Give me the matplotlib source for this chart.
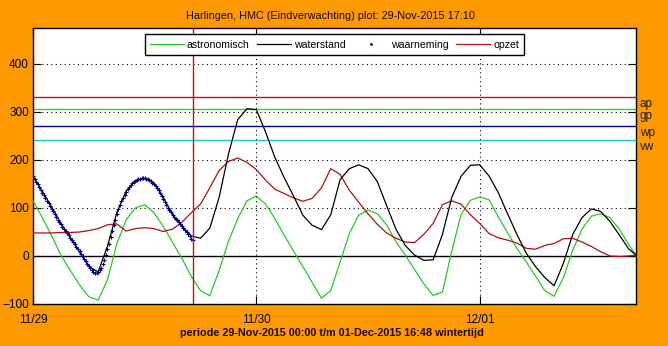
import datetime as dt
import matplotlib
matplotlib.use("Agg")
import matplotlib.pyplot as plt
import matplotlib.dates as mdates
from matplotlib.lines import Line2D

plt.rcParams['font.family'] = ['Liberation Sans Narrow', 'Liberation Sans', 'DejaVu Sans']

# ---- data -------------------------------------------------------------
start = dt.datetime(2015, 11, 29, 0, 0)
end = dt.datetime(2015, 12, 1, 16, 48)
now = dt.datetime(2015, 11, 29, 17, 10)

# hourly forecast series (cm NAP), last value at the end of the period
hours = list(range(65)) + [64.8]

astronomisch = [115, 80, 42, 2, -30, -60, -85, -92, -50, 25,
                75, 100, 107, 90, 62, 28, -5, -42, -72, -83,
                -30, 30, 78, 115, 125, 108, 78, 43, 10, -22,
                -55, -88, -72, -13, 47, 85, 96, 88, 65, 30,
                2, -28, -58, -82, -75, 10, 86, 116, 123, 117,
                82, 48, 16, -12, -42, -72, -84, -45, 12, 56,
                83, 88, 80, 56, 24, 2]

waterstand = [166, 135, 102, 68, 38, 8, -22, -33, 20, 90,
              135, 157, 162, 152, 122, 86, 62, 42, 37, 58,
              122, 212, 284, 307, 305, 258, 205, 163, 125, 85,
              64, 55, 86, 159, 182, 190, 182, 155, 105, 56,
              22, 2, -9, -8, 45, 122, 166, 189, 190, 167,
              132, 88, 45, 6, -22, -45, -62, -15, 45, 80,
              98, 93, 72, 44, 15, 2]

opzet = [48, 48, 48, 49, 49, 50, 53, 57, 65, 67,
         52, 57, 59, 57, 51, 56, 70, 90, 108, 142,
         178, 197, 204, 195, 180, 158, 139, 130, 121, 114,
         120, 142, 182, 170, 137, 112, 88, 66, 48, 37,
         29, 28, 45, 68, 107, 115, 108, 86, 68, 47,
         38, 33, 27, 16, 14, 22, 26, 36, 37, 29,
         20, 9, 0, -1, 0, 2]

# observations every 10 minutes up to 17:10
waarneming = [166, 161, 155, 149, 144, 138, 132, 127, 121, 115,
              110, 104, 98, 93, 87, 82, 76, 71, 66, 61,
              56, 52, 47, 43, 38, 34, 29, 24, 19, 15,
              10, 5, 0, -6, -11, -16, -21, -26, -30, -33,
              -35, -35, -33, -29, -24, -17, -8, 2, 14, 26,
              39, 52, 64, 76, 88, 98, 106, 114, 121, 128,
              134, 139, 144, 148, 152, 155, 157, 159, 160, 161,
              162, 162, 162, 161, 160, 158, 156, 153, 150, 146,
              142, 137, 131, 125, 119, 113, 107, 101, 96, 91,
              86, 82, 78, 74, 70, 67, 63, 59, 55, 51,
              46, 41, 36, 33]

# warning levels
levels = {'ap': 331, 'gp': 306, 'wp': 271, 'vw': 242}
level_colors = {'ap': '#CC1010', 'gp': '#22DD22', 'wp': '#000080', 'vw': '#22CCCC'}

day_ticks = [dt.datetime(2015, 11, 29), dt.datetime(2015, 11, 30), dt.datetime(2015, 12, 1)]

# ---- figure -----------------------------------------------------------
bg = '#FF9900'
fig = plt.figure(figsize=(6.68, 3.46), dpi=100, facecolor=bg)
ax = fig.add_axes([33 / 668, 42 / 346, 603 / 668, 276 / 346])
ax.set_facecolor('white')

t_fc = [start + dt.timedelta(hours=h) for h in hours]
t_obs = [start + dt.timedelta(minutes=10 * i) for i in range(len(waarneming))]

ax.set_xlim(start, end)
ax.set_ylim(-100, 475)

# dotted grid and zero line
for v in [100, 200, 300, 400]:
    ax.axhline(v, color='black', lw=0.8, ls=(0, (1, 3)), zorder=1)
for d in day_ticks[1:]:
    ax.axvline(d, color='black', lw=0.8, ls=(0, (1, 3)), zorder=1)
ax.axhline(0, color='black', lw=1.0, zorder=2)

# warning levels with labels at the right
for name, val in levels.items():
    ax.axhline(val, color=level_colors[name], lw=1.0, zorder=2)
    ax.text(1.006, val - 2, name, transform=ax.get_yaxis_transform(),
            va='top', ha='left', fontsize=8.5, color='#202020')

ax.plot(t_fc, astronomisch, color='#22CC22', lw=0.9, zorder=3)
ax.plot(t_fc, opzet, color='#B01010', lw=0.9, zorder=3)
ax.plot(t_fc, waterstand, color='black', lw=0.9, zorder=4)
ax.plot(t_obs, waarneming, ls='none', marker='+', ms=3.5, mew=0.8,
        color='#000080', zorder=5)
ax.axvline(now, color='#CC1010', lw=1.0, zorder=6)

# axes and ticks
ax.set_yticks([-100, 0, 100, 200, 300, 400])
ax.set_xticks(day_ticks)
ax.xaxis.set_major_formatter(mdates.DateFormatter('%m/%d'))
ax.tick_params(direction='in', length=6, width=0.8, top=True, right=True,
               labelsize=8.5, colors='black', pad=3)
ax.tick_params(axis='x', pad=7)
for s in ax.spines.values():
    s.set_color('black')
    s.set_linewidth(1.0)

# legend
handles = [Line2D([], [], color='#22CC22', lw=0.9),
           Line2D([], [], color='black', lw=0.9),
           Line2D([], [], ls='none', marker='.', ms=2, color='#000080'),
           Line2D([], [], color='#B01010', lw=0.9)]
labels = ['astronomisch', 'waterstand', 'waarneming', 'opzet']
leg = ax.legend(handles, labels, ncol=4, loc='upper center',
                bbox_to_anchor=(0.5, 0.977), fontsize=7.6, frameon=True,
                fancybox=False, edgecolor='black', framealpha=1,
                handlelength=3.2, handletextpad=0.3, columnspacing=0.75,
                borderpad=0.5, borderaxespad=0)
leg.get_frame().set_linewidth(1.0)
leg.set_zorder(10)

fig.text(0.495, 0.955, 'Harlingen, HMC (Eindverwachting) plot: 29-Nov-2015 17:10',
         ha='center', va='center', fontsize=7.8, color='#1a0800')
fig.text(0.497, 0.038, 'periode 29-Nov-2015 00:00 t/m 01-Dec-2015 16:48 wintertijd',
         ha='center', va='center', fontsize=7.8, fontweight='bold', color='#1a0800')

fig.savefig('out.png', dpi=100, facecolor=bg)
